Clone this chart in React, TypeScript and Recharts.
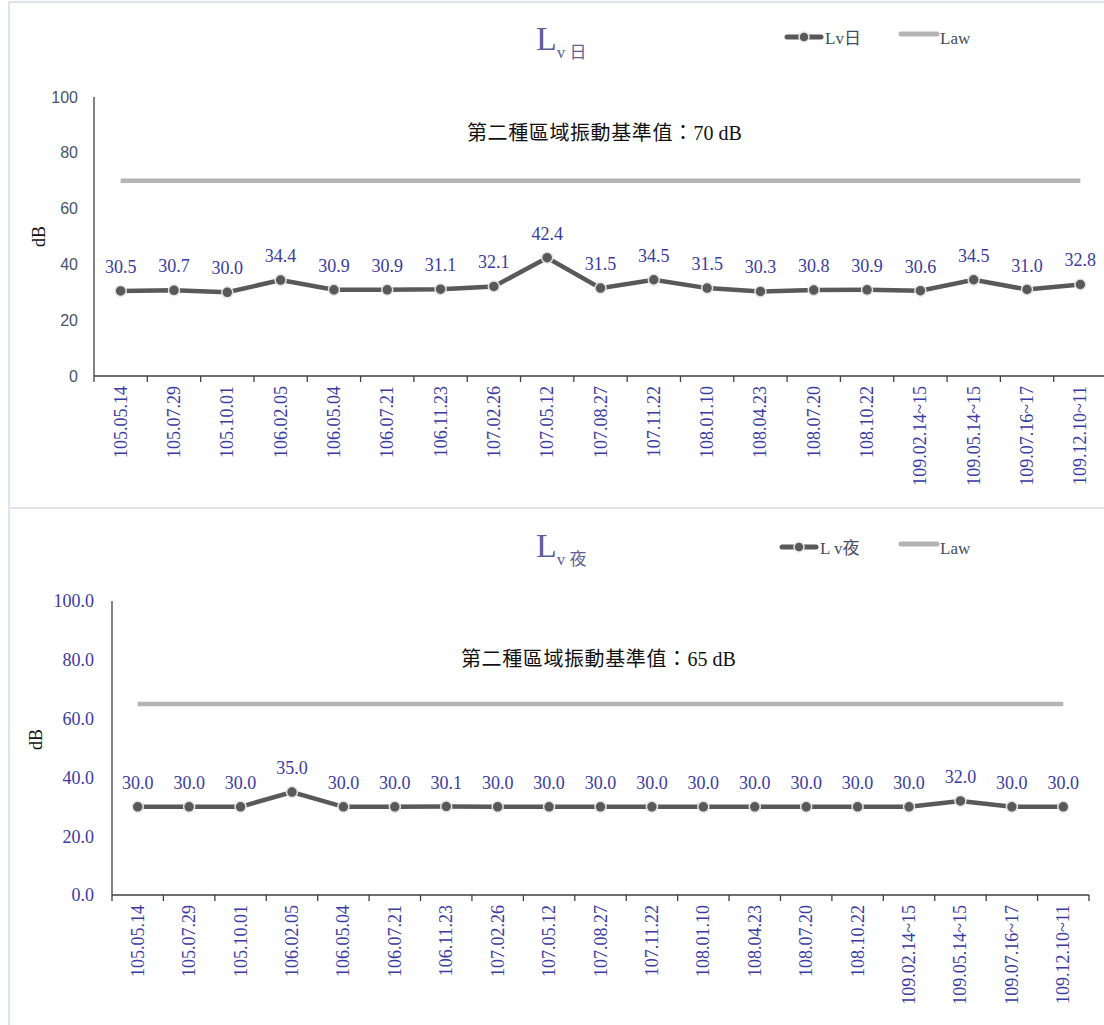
import { LineChart, Line, XAxis, YAxis, LabelList } from "recharts";

// fechas de muestreo (eje X)
const fechas = [
  "105.05.14",
  "105.07.29",
  "105.10.01",
  "106.02.05",
  "106.05.04",
  "106.07.21",
  "106.11.23",
  "107.02.26",
  "107.05.12",
  "107.08.27",
  "107.11.22",
  "108.01.10",
  "108.04.23",
  "108.07.20",
  "108.10.22",
  "109.02.14~15",
  "109.05.14~15",
  "109.07.16~17",
  "109.12.10~11",
];

// Lv日
const lvDia = [30.5, 30.7, 30.0, 34.4, 30.9, 30.9, 31.1, 32.1, 42.4, 31.5, 34.5, 31.5, 30.3, 30.8, 30.9, 30.6, 34.5, 31.0, 32.8];
// Lv夜
const lvNoche = [30.0, 30.0, 30.0, 35.0, 30.0, 30.0, 30.1, 30.0, 30.0, 30.0, 30.0, 30.0, 30.0, 30.0, 30.0, 30.0, 32.0, 30.0, 30.0];

const lawDia = 70;
const lawNoche = 65;
const yTicks = [0, 20, 40, 60, 80, 100];

const SERIF = '"Liberation Serif", "Times New Roman", "Noto Sans CJK TC", serif';
const BLUE = "#3a3aa3";
const LINE = "#595959";
const LAW = "#b4b4b4";
const AXIS = "#404040";
const BORDER = "#dfe3ec";

const dataDia = fechas.map((f, i) => ({ fecha: f, lv: lvDia[i], law: lawDia }));
const dataNoche = fechas.map((f, i) => ({ fecha: f, lv: lvNoche[i], law: lawNoche }));

/* tick del eje X: texto vertical + marcas entre categorías */
function makeXTick(bw: number) {
  return (props: any) => {
    const { x, y, payload, index } = props;
    const ty = y + 10;
    return (
      <g>
        {index === 0 && (
          <line x1={x - bw / 2} x2={x - bw / 2} y1={y} y2={y + 6} stroke={AXIS} strokeWidth={1.3} />
        )}
        <line x1={x + bw / 2} x2={x + bw / 2} y1={y} y2={y + 6} stroke={AXIS} strokeWidth={1.3} />
        <text
          x={x}
          y={ty}
          transform={`rotate(-90 ${x} ${ty})`}
          textAnchor="end"
          dominantBaseline="central"
          fill={BLUE}
          fontSize={18}
          fontFamily={SERIF}
        >
          {payload.value}
        </text>
      </g>
    );
  };
}

function Leyenda({ nombre, left, top, lawLeft }: { nombre: string; left: number; top: number; lawLeft: number }) {
  return (
    <div
      style={{
        position: "absolute",
        left,
        top,
        display: "flex",
        alignItems: "center",
        fontFamily: SERIF,
        fontSize: 17,
        color: "#434c5c",
        whiteSpace: "nowrap",
      }}
    >
      <svg width={40} height={14}>
        <line x1={3} x2={37} y1={7} y2={7} stroke={LINE} strokeWidth={5} strokeLinecap="round" />
        <circle cx={20} cy={7} r={5} fill={LINE} stroke="#e6e6e6" strokeWidth={1.5} />
      </svg>
      <span style={{ marginLeft: 1 }}>{nombre}</span>
      <svg width={42} height={14} style={{ position: "absolute", left: lawLeft, top: 3 }}>
        <line x1={3} x2={39} y1={7} y2={7} stroke={LAW} strokeWidth={5} strokeLinecap="round" />
      </svg>
      <span style={{ position: "absolute", left: lawLeft + 42, top: 5 }}>Law</span>
    </div>
  );
}

type PanelProps = {
  data: { fecha: string; lv: number; law: number }[];
  width: number;
  height: number;
  plotLeft: number;
  plotRight: number;
  plotTop: number;
  plotBottom: number;
  yTickFormat: (v: number) => string;
  yTickStyle: any;
  yMargin: number;
};

function Panel(p: PanelProps) {
  const yWidth = 60;
  const xHeight = 120;
  const bw = (p.plotRight - p.plotLeft) / p.data.length;
  return (
    <LineChart
      width={p.width}
      height={p.height}
      data={p.data}
      margin={{
        top: p.plotTop,
        left: p.plotLeft - yWidth,
        right: p.width - p.plotRight,
        bottom: p.height - p.plotBottom - xHeight,
      }}
    >
      <XAxis
        dataKey="fecha"
        scale="band"
        interval={0}
        height={xHeight}
        tickSize={0}
        tickMargin={0}
        tickLine={false}
        axisLine={{ stroke: AXIS, strokeWidth: 1.3 }}
        tick={makeXTick(bw)}
      />
      <YAxis
        width={yWidth}
        domain={[0, 100]}
        ticks={yTicks}
        tickLine={false}
        tickMargin={p.yMargin}
        axisLine={{ stroke: AXIS, strokeWidth: 1.3 }}
        tickFormatter={p.yTickFormat}
        tick={p.yTickStyle}
      />
      <Line
        dataKey="law"
        stroke={LAW}
        strokeWidth={4.5}
        dot={false}
        activeDot={false}
        isAnimationActive={false}
      />
      <Line
        dataKey="lv"
        stroke={LINE}
        strokeWidth={4.5}
        dot={{ r: 5.5, fill: LINE, stroke: "#e4e4e4", strokeWidth: 1.5 }}
        activeDot={false}
        isAnimationActive={false}
      >
        <LabelList
          dataKey="lv"
          position="top"
          offset={18}
          formatter={(v: any) => Number(v).toFixed(1)}
          style={{ fill: BLUE, fontSize: 18, fontFamily: SERIF }}
        />
      </Line>
    </LineChart>
  );
}

const abs = (left: number, top: number): any => ({ position: "absolute", left, top });

function Titulo({ sub, left, top }: { sub: string; left: number; top: number }) {
  return (
    <div style={{ ...abs(left, top), color: "#5e5e98", whiteSpace: "nowrap", lineHeight: 1 }}>
      <span style={{ fontSize: 34 }}>L</span>
      <span style={{ fontSize: 17, position: "relative", top: 8 }}>{sub}</span>
    </div>
  );
}

function Nota({ valor, left, top }: { valor: string; left: number; top: number }) {
  return (
    <div style={{ ...abs(left, top), fontSize: 20, color: "#111", whiteSpace: "nowrap" }}>
      <span style={{ letterSpacing: 0.6 }}>第二種區域振動基準值：</span>
      <span>{valor}</span>
    </div>
  );
}

export default function App() {
  return (
    <div style={{ position: "relative", width: 1104, height: 1025, overflow: "hidden", background: "#fff", fontFamily: SERIF }}>
      <style>{`body{margin:0}`}</style>
      {/* marcos */}
      <div style={{ ...abs(8, 1), width: 1110, height: 508, border: `2px solid ${BORDER}`, boxSizing: "border-box" }} />
      <div style={{ ...abs(8, 507), width: 1110, height: 530, border: `2px solid ${BORDER}`, boxSizing: "border-box" }} />

      {/* gráfico Lv日 */}
      <div style={abs(0, 0)}>
        <Panel
          data={dataDia}
          width={1112}
          height={508}
          plotLeft={94}
          plotRight={1107}
          plotTop={97}
          plotBottom={376}
          yTickFormat={(v) => String(v)}
          yTickStyle={{ fill: "#44546a", fontSize: 16, fontFamily: '"Liberation Sans", Arial, sans-serif' }}
          yMargin={10}
        />
      </div>
      <Titulo sub="v 日" left={536} top={22} />
      <Leyenda nombre="Lv日" left={784} top={24} lawLeft={114} />
      <Nota valor="70 dB" left={467} top={117} />
      <div style={{ ...abs(29, 226), fontSize: 18, color: "#111", transform: "rotate(-90deg)" }}>dB</div>

      {/* gráfico Lv夜 */}
      <div style={abs(0, 510)}>
        <Panel
          data={dataNoche}
          width={1104}
          height={515}
          plotLeft={112}
          plotRight={1089}
          plotTop={91}
          plotBottom={385}
          yTickFormat={(v) => v.toFixed(1)}
          yTickStyle={{ fill: BLUE, fontSize: 18, fontFamily: SERIF }}
          yMargin={12}
        />
      </div>
      <Titulo sub="v 夜" left={536} top={529} />
      <Leyenda nombre="L v夜" left={779} top={534} lawLeft={119} />
      <Nota valor="65 dB" left={461} top={643} />
      <div style={{ ...abs(26, 729), fontSize: 18, color: "#111", transform: "rotate(-90deg)" }}>dB</div>
    </div>
  );
}
